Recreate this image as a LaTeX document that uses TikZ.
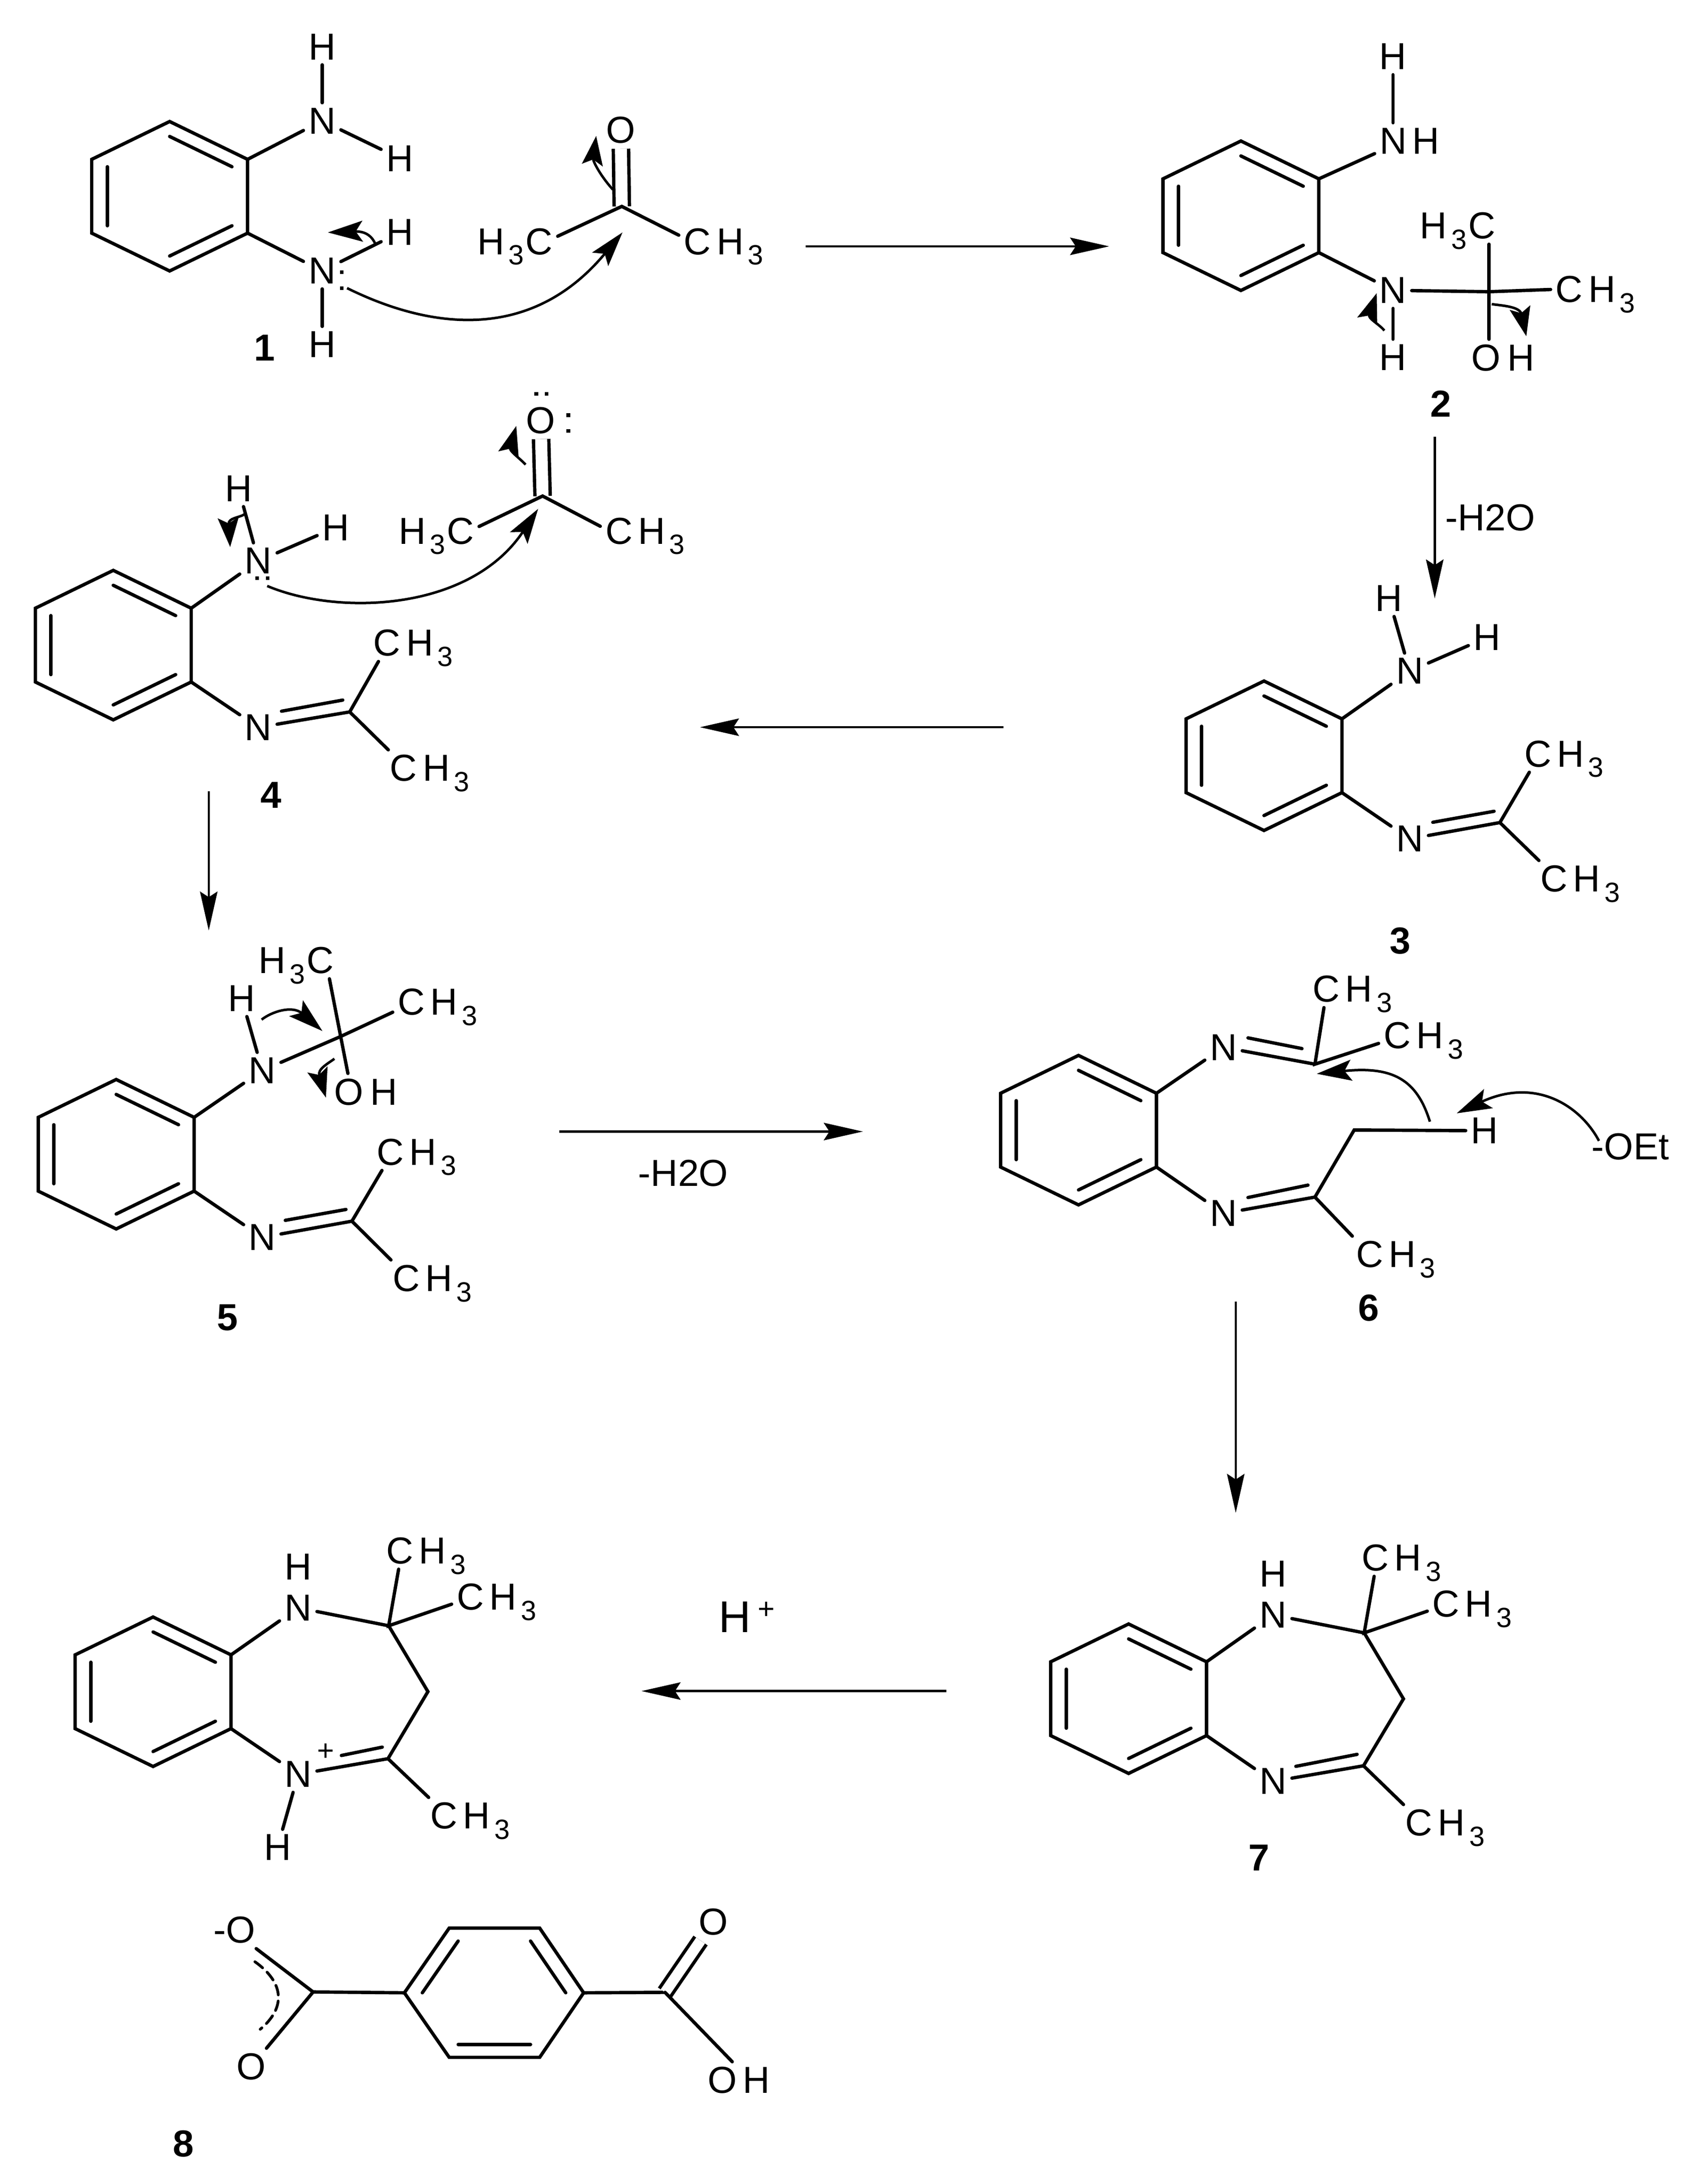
\documentclass[tikz,border=0pt]{standalone}
\usepackage{fontspec}
\setmainfont{Liberation Sans}
\usetikzlibrary{calc, arrows.meta}
\tikzstyle{bond}   = [line width=2.4pt,line cap=round,line join=miter]
\tikzstyle{dbond}  = [line width=2.4pt,double,double distance=8.6pt]
\tikzstyle{atom}   = [inner sep=3.5pt,font=\fontsize{27}{30}\selectfont]
\tikzstyle{numlab} = [inner sep=2pt,font=\fontsize{27}{30}\selectfont\bfseries]
\tikzstyle{arrow}  = [line width=1.6pt,-{Stealth[length=28pt,width=12.5pt,inset=4pt]}]
\tikzstyle{curly}  = [line width=1.8pt,-{Stealth[length=25pt,width=15pt,inset=5pt]}]
\tikzstyle{curlys} = [line width=1.8pt,-{Stealth[length=21pt,width=15pt,inset=4pt]}]
\newcommand\subthree{\raisebox{-7.5pt}[0pt][0pt]{\fontsize{20}{20}\selectfont 3}}
\newcommand\chthree{C\kern4pt H\kern3pt\subthree}
\newcommand\hthreec{H\kern3pt\subthree\kern1pt C}
% six-membered ring: name, centre x, centre y
\newcommand\benzring[3]{
  \coordinate (#1o) at (#2,#3);
  \coordinate (#1a) at (#2,#3-53.7);
  \coordinate (#1b) at (#2+56,#3-26.5);
  \coordinate (#1c) at (#2+56,#3+26.5);
  \coordinate (#1d) at (#2,#3+53.7);
  \coordinate (#1e) at (#2-56,#3+26.5);
  \coordinate (#1f) at (#2-56,#3-26.5);
  \draw[bond] (#1a) -- (#1b) -- (#1c) -- (#1d) -- (#1e) -- (#1f) -- cycle;
  \draw[bond] ($(#1o)!.8!(#1a)$) -- ($(#1o)!.8!(#1b)$);
  \draw[bond] ($(#1o)!.8!(#1c)$) -- ($(#1o)!.8!(#1d)$);
  \draw[bond] ($(#1o)!.8!(#1e)$) -- ($(#1o)!.8!(#1f)$);
}
\begin{document}
\begin{tikzpicture}[x=1pt,y=-1pt]
  \useasboundingbox (0,0) rectangle (1222,1569.2);

  %molecule 1 and the ketone
  \benzring{ra}{121.9}{141}
  \node[atom] (h1a) at (231.5,33.6) {H};
  \node[atom] (n1a) at (231.5,86.8) {N};
  \node[atom] (h1b) at (287.3,113.8) {H};
  \node[atom] (n1b) at (231.5,194.6) {N};
  \node[atom] (h1c) at (287.3,167) {H};
  \node[atom] (h1d) at (231.5,247.5) {H};
  \node[numlab] (lab1) at (190.2,250) {1};
  \draw[bond] (h1a) -- (n1a);
  \draw[bond] (n1a) -- (h1b);
  \draw[bond] (rab) -- (n1a);
  \draw[bond] (rac) -- (n1b);
  \draw[bond] (n1b) -- (h1c);
  \draw[bond] (n1b) -- (h1d);

  \coordinate (ca) at (446.8,148.3);
  \node[atom] (oa) at (446,93.6) {O};
  \node[atom] (mea) at (370,173.5) {\hthreec};
  \node[atom] (meb) at (520,173.5) {\chthree};
  \draw[dbond] (oa) -- (ca);
  \draw[bond] (mea.7) -- (ca) -- (meb.172);

  \coordinate (s1a) at (249.4,207);
  \coordinate (t1a) at (447.3,167);
  \draw[curly] (s1a) .. controls (306,235) and (380,248) .. (t1a);
  \coordinate (s1b) at (440.4,136.2);
  \coordinate (t1b) at (428.4,97.7);
  \draw[curlys] (s1b) .. controls (432,127) and (426,116) .. (t1b);
  \coordinate (s1c) at (270,176);
  \coordinate (t1c) at (235.6,167);
  \draw[curly] (s1c) .. controls (268,171) and (264,166) .. (t1c);

  %molecule 2
  \benzring{rb}{891.7}{155}
  \node[atom] (h2a) at (1001,40.7) {H};
  \node[atom] (n2a) at (1013,101.2) {N\kern4pt H};
  \node[atom] (n2b) at (1001,208.6) {N};
  \node[atom] (h2b) at (1001,256.7) {H};
  \coordinate (c2) at (1070,209.6);
  \node[atom] (me2a) at (1047.5,162.2) {\hthreec};
  \node[atom] (me2b) at (1146.5,208) {\chthree};
  \node[atom] (oh2) at (1080,257) {O\kern5pt H};
  \node[numlab] (lab2) at (1035.4,290) {2};
  \draw[bond] (h2a) -- (h2a |- n2a.north);
  \draw[bond] (rbb) -- (n2a.200);
  \draw[bond] (rbc) -- (n2b);
  \draw[bond] (n2b) -- (h2b);
  \draw[bond] (n2b) -- (c2) -- (me2b.west);
  \draw[bond] (me2a.south -| c2) -- (c2) -- (c2 |- oh2.north);
  \coordinate (s2a) at (994.8,237.5);
  \coordinate (t2a) at (989.3,210.6);
  \draw[curlys] (s2a) .. controls (990,232) and (983,229) .. (t2a);
  \coordinate (s2b) at (1072,218.5);
  \coordinate (t2b) at (1096.8,241.6);
  \draw[curlys] (s2b) .. controls (1078,219.5) and (1092,220) .. (t2b);

  %molecule 3
  \benzring{rc}{908.3}{543}
  \node[atom] (n3a) at (1013,482.2) {N};
  \node[atom] (h3a) at (998.1,430) {H};
  \node[atom] (h3b) at (1068.6,458) {H};
  \node[atom] (n3b) at (1013,602.7) {N};
  \coordinate (c3) at (1077.8,591);
  \node[atom] (me3a) at (1123.9,541.6) {\chthree};
  \node[atom] (me3b) at (1135.6,631.5) {\chthree};
  \node[numlab] (lab3) at (1006.1,676.1) {3};
  \draw[bond] (h3a) -- (n3a);
  \draw[bond] (n3a) -- (h3b);
  \draw[bond] (rcb) -- (n3a);
  \draw[bond] (rcc) -- (n3b);
  \draw[bond] (n3b) -- (c3);
  \draw[bond] ([shift={(-48.2,-.2)}]c3) -- ([shift={(-4.2,-8.1)}]c3);
  \draw[bond] (me3a.208) -- (c3) -- (me3b.156);

  %molecule 4 and the ketone
  \benzring{rd}{81.4}{463.5}
  \node[atom] (n4a) at (185.7,403) {N};
  \node[atom] (h4a) at (171.4,351) {H};
  \node[atom] (h4b) at (241.3,379) {H};
  \node[atom] (n4b) at (185.7,522.6) {N};
  \coordinate (c4) at (251.3,511.5);
  \node[atom] (me4a) at (296.9,462) {\chthree};
  \node[atom] (me4b) at (308.8,552) {\chthree};
  \node[numlab] (lab4) at (194.7,571.4) {4};
  \draw[bond] (h4a) -- (n4a);
  \draw[bond] (n4a) -- (h4b);
  \draw[bond] (rdb) -- (n4a);
  \draw[bond] (rdc) -- (n4b);
  \draw[bond] (n4b) -- (c4);
  \draw[bond] ([shift={(-49,-.5)}]c4) -- ([shift={(-5,-8.5)}]c4);
  \draw[bond] (me4a.208) -- (c4) -- (me4b.156);

  \coordinate (cb) at (389.9,356.4);
  \node[atom] (ob) at (388.5,302.2) {O};
  \node[atom] (mec) at (313.5,381.5) {\hthreec};
  \node[atom] (med) at (463.6,381.5) {\chthree};
  \draw[dbond] (ob) -- (cb);
  \draw[bond] (mec.6) -- (cb) -- (med.174);

  \coordinate (s4a) at (192,421);
  \coordinate (t4a) at (386.7,365.6);
  \draw[curly] (s4a) .. controls (242.5,442.4) and (337.5,439.6) .. (t4a);
  \coordinate (s4b) at (377.7,333.8);
  \coordinate (t4b) at (371,306);
  \draw[curlys] (s4b) .. controls (372,328) and (366,324) .. (t4b);
  \coordinate (s4c) at (175.7,369.5);
  \coordinate (t4c) at (165.4,393);
  \draw[curlys] (s4c) .. controls (172,372) and (164,372) .. (t4c);

  %lone pairs on 1 and 4
  \foreach \x/\y in {245.6/195.5,245.6/207,385.4/283,392.7/283,408.4/298.3,408.4/309.6,184.7/415.3,192.4/415.3}{
    \fill (\x-1.3,\y-1.3) rectangle (\x+1.3,\y+1.3);
  }

  %molecule 5
  \benzring{re}{83.5}{829.3}
  \node[atom] (n5a) at (188.5,769.1) {N};
  \node[atom] (h5a) at (173.7,717.4) {H};
  \coordinate (c5a) at (244.8,744.7);
  \node[atom] (me5a) at (212.8,690) {\hthreec};
  \node[atom] (me5b) at (314.5,719.8) {\chthree};
  \node[atom] (oh5) at (262.8,784.5) {O\kern5pt H};
  \node[atom] (n5b) at (188.5,889) {N};
  \coordinate (c5b) at (252.9,877.4);
  \node[atom] (me5c) at (299.4,827.7) {\chthree};
  \node[atom] (me5d) at (310.7,918.5) {\chthree};
  \node[numlab] (lab5) at (163.6,946.6) {5};
  \draw[bond] (h5a) -- (n5a);
  \draw[bond] (reb) -- (n5a);
  \draw[bond] (n5a) -- (c5a) -- (me5b.193);
  \draw[bond] (me5a.331) -- (c5a) -- (oh5.134);
  \draw[bond] (rec) -- (n5b);
  \draw[bond] (n5b) -- (c5b);
  \draw[bond] ([shift={(-47.9,-.6)}]c5b) -- ([shift={(-4.3,-8.4)}]c5b);
  \draw[bond] (me5c.208) -- (c5b) -- (me5d.156);
  \coordinate (s5a) at (188,732.6);
  \coordinate (t5a) at (231.7,740.8);
  \draw[curly] (s5a) .. controls (195,727) and (210,722) .. (t5a);
  \coordinate (s5b) at (240.3,760.7);
  \coordinate (t5b) at (234.2,788.6);
  \draw[curlys] (s5b) .. controls (236,764) and (228,768) .. (t5b);

  %molecule 6
  \benzring{rf}{775}{812}
  \node[atom] (n6a) at (879.2,752.5) {N};
  \coordinate (c6a) at (944.9,764.6);
  \node[atom] (me6a) at (971.8,710.7) {\chthree};
  \node[atom] (me6b) at (1022.9,744) {\chthree};
  \node[atom] (n6b) at (879.2,871.8) {N};
  \coordinate (c6b) at (944.9,860.1);
  \coordinate (c6c) at (973.1,811.9);
  \node[atom] (me6c) at (1003,901.4) {\chthree};
  \node[atom] (h6) at (1066.7,812.4) {H};
  \node[atom] (oet) at (1171.6,824) {-OEt};
  \node[numlab] (lab6) at (983.7,939.6) {6};
  \draw[bond] (rfb) -- (n6a);
  \draw[bond] (n6a) -- (c6a);
  \draw[bond] ([shift={(-48.1,-18.9)}]c6a) -- ([shift={(-9.3,-11.2)}]c6a);
  \draw[bond] (me6a.213) -- (c6a) -- (me6b.190);
  \draw[bond] (rfc) -- (n6b);
  \draw[bond] (n6b) -- (c6b);
  \draw[bond] ([shift={(-48.1,.3)}]c6b) -- ([shift={(-5,-8.6)}]c6b);
  \draw[bond] (me6c.157) -- (c6b) -- (c6c) -- (h6);
  \coordinate (s6a) at (1027.5,805.9);
  \coordinate (t6a) at (946.2,771.5);
  \draw[curly] (s6a) .. controls (1018,775) and (1000,766) .. (t6a);
  \coordinate (s6b) at (1149,819.7);
  \coordinate (t6b) at (1046.8,799.9);
  \draw[curly] (s6b) .. controls (1136,795) and (1104,773.4) .. (t6b);

  %molecule 7
  \benzring{rg}{811}{1220.5}
  \node[atom] (n7a) at (914.9,1160.3) {N};
  \node[atom] (h7) at (914.9,1130.7) {H};
  \coordinate (c7a) at (980.3,1173.2);
  \coordinate (c7b) at (1008.5,1220.6);
  \coordinate (c7c) at (979.8,1268.7);
  \node[atom] (n7b) at (914.9,1279.9) {N};
  \node[atom] (me7a) at (1007.1,1119.3) {\chthree};
  \node[atom] (me7b) at (1057.9,1152.5) {\chthree};
  \node[atom] (me7c) at (1038.3,1309.8) {\chthree};
  \node[numlab] (lab7) at (904.8,1335) {7};
  \draw[bond] (rgb) -- (n7a);
  \draw[bond] (rgc) -- (n7b);
  \draw[bond] (n7a) -- (c7a) -- (c7b) -- (c7c) -- (n7b);
  \draw[bond] ([shift={(-48.6,.4)}]c7c) -- ([shift={(-4.6,-8.2)}]c7c);
  \draw[bond] (me7a.214) -- (c7a) -- (me7b.189);
  \draw[bond] (c7c) -- (me7c.156);

  %molecule 8, the cation
  \benzring{rh}{110}{1215.5}
  \node[atom] (n8a) at (214.3,1155.2) {N};
  \node[atom] (h8a) at (214.3,1125.6) {H};
  \coordinate (c8a) at (279.3,1168.1);
  \coordinate (c8b) at (307.5,1215.4);
  \coordinate (c8c) at (278.8,1263.6);
  \node[atom] (n8b) at (214.3,1274.8) {N};
  \node[atom,inner sep=0pt,font=\fontsize{21}{21}\selectfont] (plus8) at (234,1258.8) {+};
  \node[atom] (h8b) at (199.4,1327.3) {H};
  \node[atom] (me8a) at (306.1,1114.2) {\chthree};
  \node[atom] (me8b) at (356.8,1147.5) {\chthree};
  \node[atom] (me8c) at (337.8,1304.7) {\chthree};
  \draw[bond] (rhb) -- (n8a);
  \draw[bond] (rhc) -- (n8b);
  \draw[bond] (n8a) -- (c8a) -- (c8b) -- (c8c) -- (n8b);
  \draw[bond] ([shift={(-33.5,-2.3)}]c8c) -- ([shift={(-4.1,-8.3)}]c8c);
  \draw[bond] (me8a.214) -- (c8a) -- (me8b.189);
  \draw[bond] (c8c) -- (me8c.156);
  \draw[bond] (n8b) -- (h8b);

  %the acid below it
  \coordinate (pa) at (290.6,1431.8);
  \coordinate (pb) at (322.8,1385.3);
  \coordinate (pc) at (387.8,1385.3);
  \coordinate (pd) at (419.4,1431.8);
  \coordinate (pe) at (387.8,1478.2);
  \coordinate (pf) at (322.8,1478.2);
  \coordinate (po) at (355,1431.8);
  \draw[bond] (pa) -- (pb) -- (pc) -- (pd) -- (pe) -- (pf) -- cycle;
  \draw[bond] ($(po)!.8!(pa)$) -- ($(po)!.8!(pb)$);
  \draw[bond] ($(po)!.8!(pc)$) -- ($(po)!.8!(pd)$);
  \draw[bond] ($(po)!.8!(pe)$) -- ($(po)!.8!(pf)$);
  \coordinate (cxa) at (225,1431.2);
  \coordinate (cxb) at (477.9,1431.5);
  \node[atom] (o9a) at (168.3,1386.8) {-O};
  \node[atom] (o9b) at (180.5,1484.9) {O};
  \node[atom] (o9c) at (512.5,1381) {O};
  \node[atom] (oh9) at (531,1494.6) {O\kern4pt H};
  \node[numlab] (lab8) at (131.9,1540.4) {8};
  \draw[bond] (pa) -- (cxa);
  \draw[bond] (pd) -- (cxb);
  \draw[bond] (o9a.-40) -- (cxa) -- (o9b);
  \draw[dbond,double distance=7.6pt] (o9c) -- (cxb);
  \draw[bond] (cxb) -- (oh9.110);
  \coordinate (da) at (183.2,1409.5);
  \coordinate (db) at (187,1458);
  \draw[bond,line width=2pt,dash pattern=on 7pt off 4.5pt] (da) .. controls (205,1425) and (205,1443) .. (db);

  %reaction arrows
  \coordinate (a1s) at (579,177);
  \coordinate (a1e) at (797,177);
  \draw[arrow] (a1s) -- (a1e);
  \coordinate (a2s) at (1031,313.9);
  \coordinate (a2e) at (1031,430);
  \draw[arrow] (a2s) -- (a2e);
  \node[atom] (lab23) at (1071,372) {-H2O};
  \coordinate (a3s) at (721,522.5);
  \coordinate (a3e) at (503,522.5);
  \draw[arrow] (a3s) -- (a3e);
  \coordinate (a4s) at (150,568.5);
  \coordinate (a4e) at (150,668.6);
  \draw[arrow] (a4s) -- (a4e);
  \coordinate (a5s) at (402,813);
  \coordinate (a5e) at (620,813);
  \draw[arrow] (a5s) -- (a5e);
  \node[atom] (lab56) at (491,843) {-H2O};
  \coordinate (a6s) at (888,935);
  \coordinate (a6e) at (888,1087);
  \draw[arrow] (a6s) -- (a6e);
  \coordinate (a7s) at (680,1215);
  \coordinate (a7e) at (461,1215);
  \draw[arrow] (a7s) -- (a7e);
  \node[atom,font=\fontsize{32}{34}\selectfont] (lab78) at (536.7,1162) {H\kern5pt\raisebox{10pt}[0pt][0pt]{\fontsize{21}{21}\selectfont +}};
\end{tikzpicture}
\end{document}
